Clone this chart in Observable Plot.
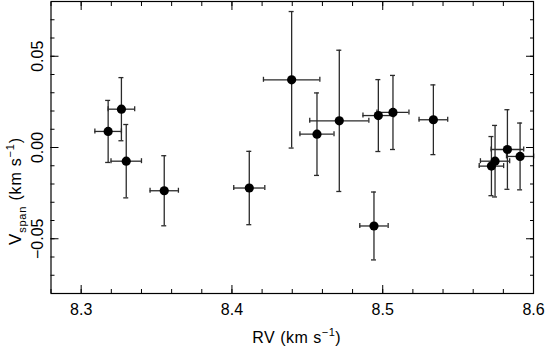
<!DOCTYPE html>
<html>
<head>
<meta charset="utf-8">
<script src="https://cdn.jsdelivr.net/npm/d3@7"></script>
<script src="https://cdn.jsdelivr.net/npm/@observablehq/plot@0.6"></script>
<style>
  html, body { margin: 0; padding: 0; background: #fff; }
  #chart svg { display: block; }
</style>
</head>
<body>
<div id="chart"></div>
<script>
// Radial velocity (km/s) and its error
const rv       = [8.3179, 8.3267, 8.3299, 8.3551, 8.4115, 8.4396, 8.4564, 8.4712, 8.4971, 8.5068, 8.5336, 8.4942, 8.5721, 8.5745, 8.5827, 8.5911];
const rvErr    = [0.0088, 0.0088, 0.0101, 0.0094, 0.0103, 0.0187, 0.0113, 0.0196, 0.0102, 0.0106, 0.0095, 0.0094, 0.0081, 0.0097, 0.0108, 0.0090];
// Bisector span (km/s) and its error
const vspan    = [0.0088, 0.0210, -0.0075, -0.0237, -0.0222, 0.0371, 0.0073, 0.0146, 0.0175, 0.0192, 0.0152, -0.0430, -0.0102, -0.0075, -0.0011, -0.0049];
const vspanErr = [0.0170, 0.0173, 0.0201, 0.0192, 0.0201, 0.0374, 0.0226, 0.0387, 0.0197, 0.0203, 0.0191, 0.0186, 0.0162, 0.0196, 0.0218, 0.0183];

// Tick values
const xMajor = [8.3, 8.4, 8.5, 8.6];
const xMinor = [8.28, 8.30, 8.32, 8.34, 8.36, 8.38, 8.40, 8.42, 8.44, 8.46, 8.48, 8.50, 8.52, 8.54, 8.56, 8.58, 8.60];
const yMajor = [-0.05, 0.00, 0.05];
const yMinor = [-0.07, -0.06, -0.05, -0.04, -0.03, -0.02, -0.01, 0.00, 0.01, 0.02, 0.03, 0.04, 0.05, 0.06, 0.07];

const data = rv.map((x, i) => ({x, ex: rvErr[i], y: vspan[i], ey: vspanErr[i]}));

const barColor = "#2a2a2a";
const bw = 1.3;

const tickAxes = [];
for (const anchor of ["bottom", "top"]) {
  tickAxes.push(Plot.axisX(xMinor, {anchor, tickSize: -4, fill: "none", label: null, stroke: "black"}));
  tickAxes.push(Plot.axisX(xMajor, {anchor, tickSize: -8, fill: "none", label: null, stroke: "black"}));
}
for (const anchor of ["left", "right"]) {
  tickAxes.push(Plot.axisY(yMinor, {anchor, tickSize: -4, fill: "none", label: null, stroke: "black"}));
  tickAxes.push(Plot.axisY(yMajor, {anchor, tickSize: -8, fill: "none", label: null, stroke: "black"}));
}

const chart = Plot.plot({
  width: 545,
  height: 348,
  marginLeft: 50.5,
  marginRight: 12,
  marginTop: 1,
  marginBottom: 55,
  x: {domain: [8.28, 8.6], label: null},
  y: {domain: [-0.08, 0.08], label: null},
  style: {fontFamily: "'Liberation Sans', Arial, Helvetica, sans-serif", fontSize: "16px", background: "white", color: "black"},
  marks: [
    ...tickAxes,
    Plot.axisX(xMajor, {anchor: "bottom", tickSize: 0, tickPadding: 10, tickFormat: d3.format(".1f"), label: null, fontSize: 16, letterSpacing: 1.4}),
    Plot.axisY(yMajor, {anchor: "left", tickSize: 0, tickRotate: -90, tickPadding: 8, tickFormat: d3.format(".2f"), label: null, fontSize: 16, letterSpacing: 0.8}),
    // vertical error bars
    Plot.ruleX(data, {x: "x", y1: d => d.y - d.ey, y2: d => d.y + d.ey, stroke: barColor, strokeWidth: bw}),
    Plot.ruleY(data, {y: d => d.y - d.ey, x1: "x", x2: "x", insetLeft: -2.5, insetRight: -2.5, stroke: barColor, strokeWidth: bw}),
    Plot.ruleY(data, {y: d => d.y + d.ey, x1: "x", x2: "x", insetLeft: -2.5, insetRight: -2.5, stroke: barColor, strokeWidth: bw}),
    // horizontal error bars
    Plot.ruleY(data, {y: "y", x1: d => d.x - d.ex, x2: d => d.x + d.ex, stroke: barColor, strokeWidth: bw}),
    Plot.ruleX(data, {x: d => d.x - d.ex, y1: "y", y2: "y", insetTop: -2.5, insetBottom: -2.5, stroke: barColor, strokeWidth: bw}),
    Plot.ruleX(data, {x: d => d.x + d.ex, y1: "y", y2: "y", insetTop: -2.5, insetBottom: -2.5, stroke: barColor, strokeWidth: bw}),
    Plot.dot(data, {x: "x", y: "y", r: 4.6, fill: "black", stroke: null}),
    Plot.frame({stroke: "black", strokeWidth: 1.2})
  ]
});

document.getElementById("chart").appendChild(chart);

// Axis titles with sub/superscripts
const svg = d3.select(chart);
const font = "'Liberation Sans', Arial, Helvetica, sans-serif";
const xs = chart.scale("x");
const xMid = (xs.apply(8.28) + xs.apply(8.6)) / 2 + 5;

const xl = svg.append("text")
  .attr("x", xMid).attr("y", 343)
  .attr("text-anchor", "middle")
  .attr("font-family", font).attr("font-size", 16).attr("fill", "black")
  .attr("letter-spacing", 0.5);
xl.append("tspan").text("RV (km s");
xl.append("tspan").attr("dy", -7).attr("font-size", 11).text("−1");
xl.append("tspan").attr("dy", 7).text(")");

const yl = svg.append("text")
  .attr("transform", "translate(21,245) rotate(-90)")
  .attr("text-anchor", "start")
  .attr("font-family", font).attr("font-size", 16).attr("fill", "black")
  .attr("letter-spacing", 0.8);
yl.append("tspan").attr("font-size", 17).text("V");
yl.append("tspan").attr("dy", 5).attr("font-size", 11).text("span");
yl.append("tspan").attr("dy", -5).text(" (km s");
yl.append("tspan").attr("dy", -7).attr("font-size", 11).text("−1");
yl.append("tspan").attr("dy", 7).text(")");
</script>
</body>
</html>
